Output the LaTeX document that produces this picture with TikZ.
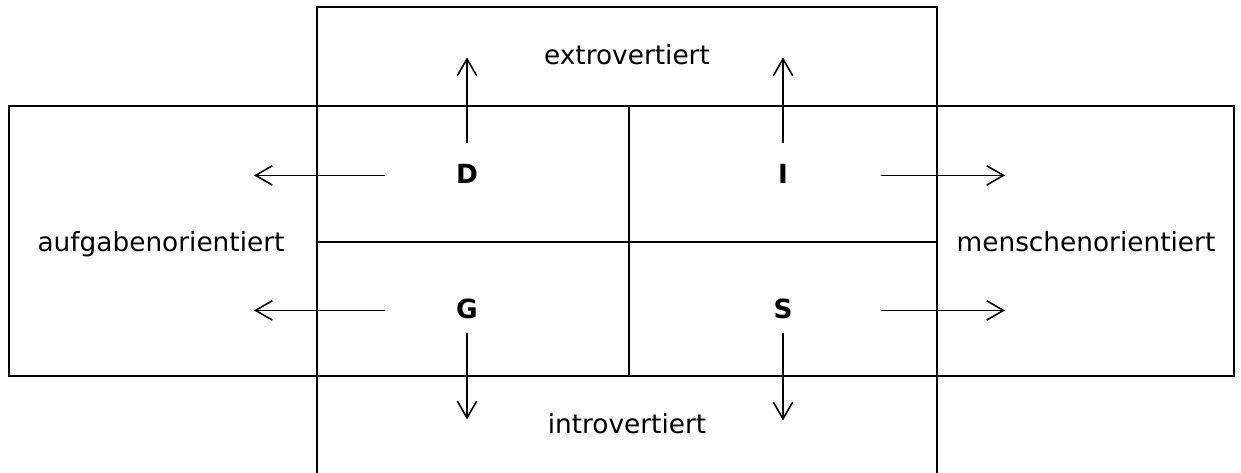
\documentclass[tikz,border=0pt]{standalone}
\usepackage{fontspec}
\setmainfont{DejaVu Sans}
\usetikzlibrary{arrows.meta,calc}

\tikzset{
  frame/.style={line width=1.3pt},
  arr/.style={line width=0.9pt,-{Straight Barb[length=9.5pt,width=11pt]}},
  lbl/.style={font=\fontsize{15}{18}\selectfont,anchor=base,inner sep=0pt},
  letter/.style={lbl,font=\fontsize{15}{18}\selectfont\bfseries},
}

\begin{document}
\begin{tikzpicture}[x=0.02cm,y=-0.02cm]
\useasboundingbox (0,0) rectangle (1241,473);
% vertical band (extro / intro), open at the bottom
\draw[frame] (317,480) -- (317,7) -- (937,7) -- (937,480);
% horizontal band (aufgaben / menschen)
\draw[frame] (9,106) rectangle (1234,376);
% quadrant dividers
\draw[frame] (629,106) -- (629,376);
\draw[frame] (317,242) -- (937,242);

% axis labels
\node[lbl] (extro) at (627,65) {extrovertiert};
\node[lbl] (intro) at (627,433) {introvertiert};
\node[lbl] (aufg) at (161,251) {aufgabenorientiert};
\node[lbl] (mensch) at (1086,251) {menschenorientiert};

% quadrant letters
\node[letter] (D) at (467,183) {D};
\node[letter] (I) at (783,183) {I};
\node[letter] (G) at (467,318) {G};
\node[letter] (S) at (783,318) {S};

% arrows out of each quadrant
\foreach \q/\hs/\he/\vs/\ve in {D/-82/-213/-30/-116, I/98/222/-30/-116,
                                G/-82/-213/25/111, S/98/222/25/112} {
  \draw[arr] ($(\q.center)+(\hs,2)$) -- ($(\q.center)+(\he,2)$);
  \draw[arr] ($(\q.center)+(0,\vs)$) -- ($(\q.center)+(0,\ve)$);
}
\end{tikzpicture}
\end{document}
